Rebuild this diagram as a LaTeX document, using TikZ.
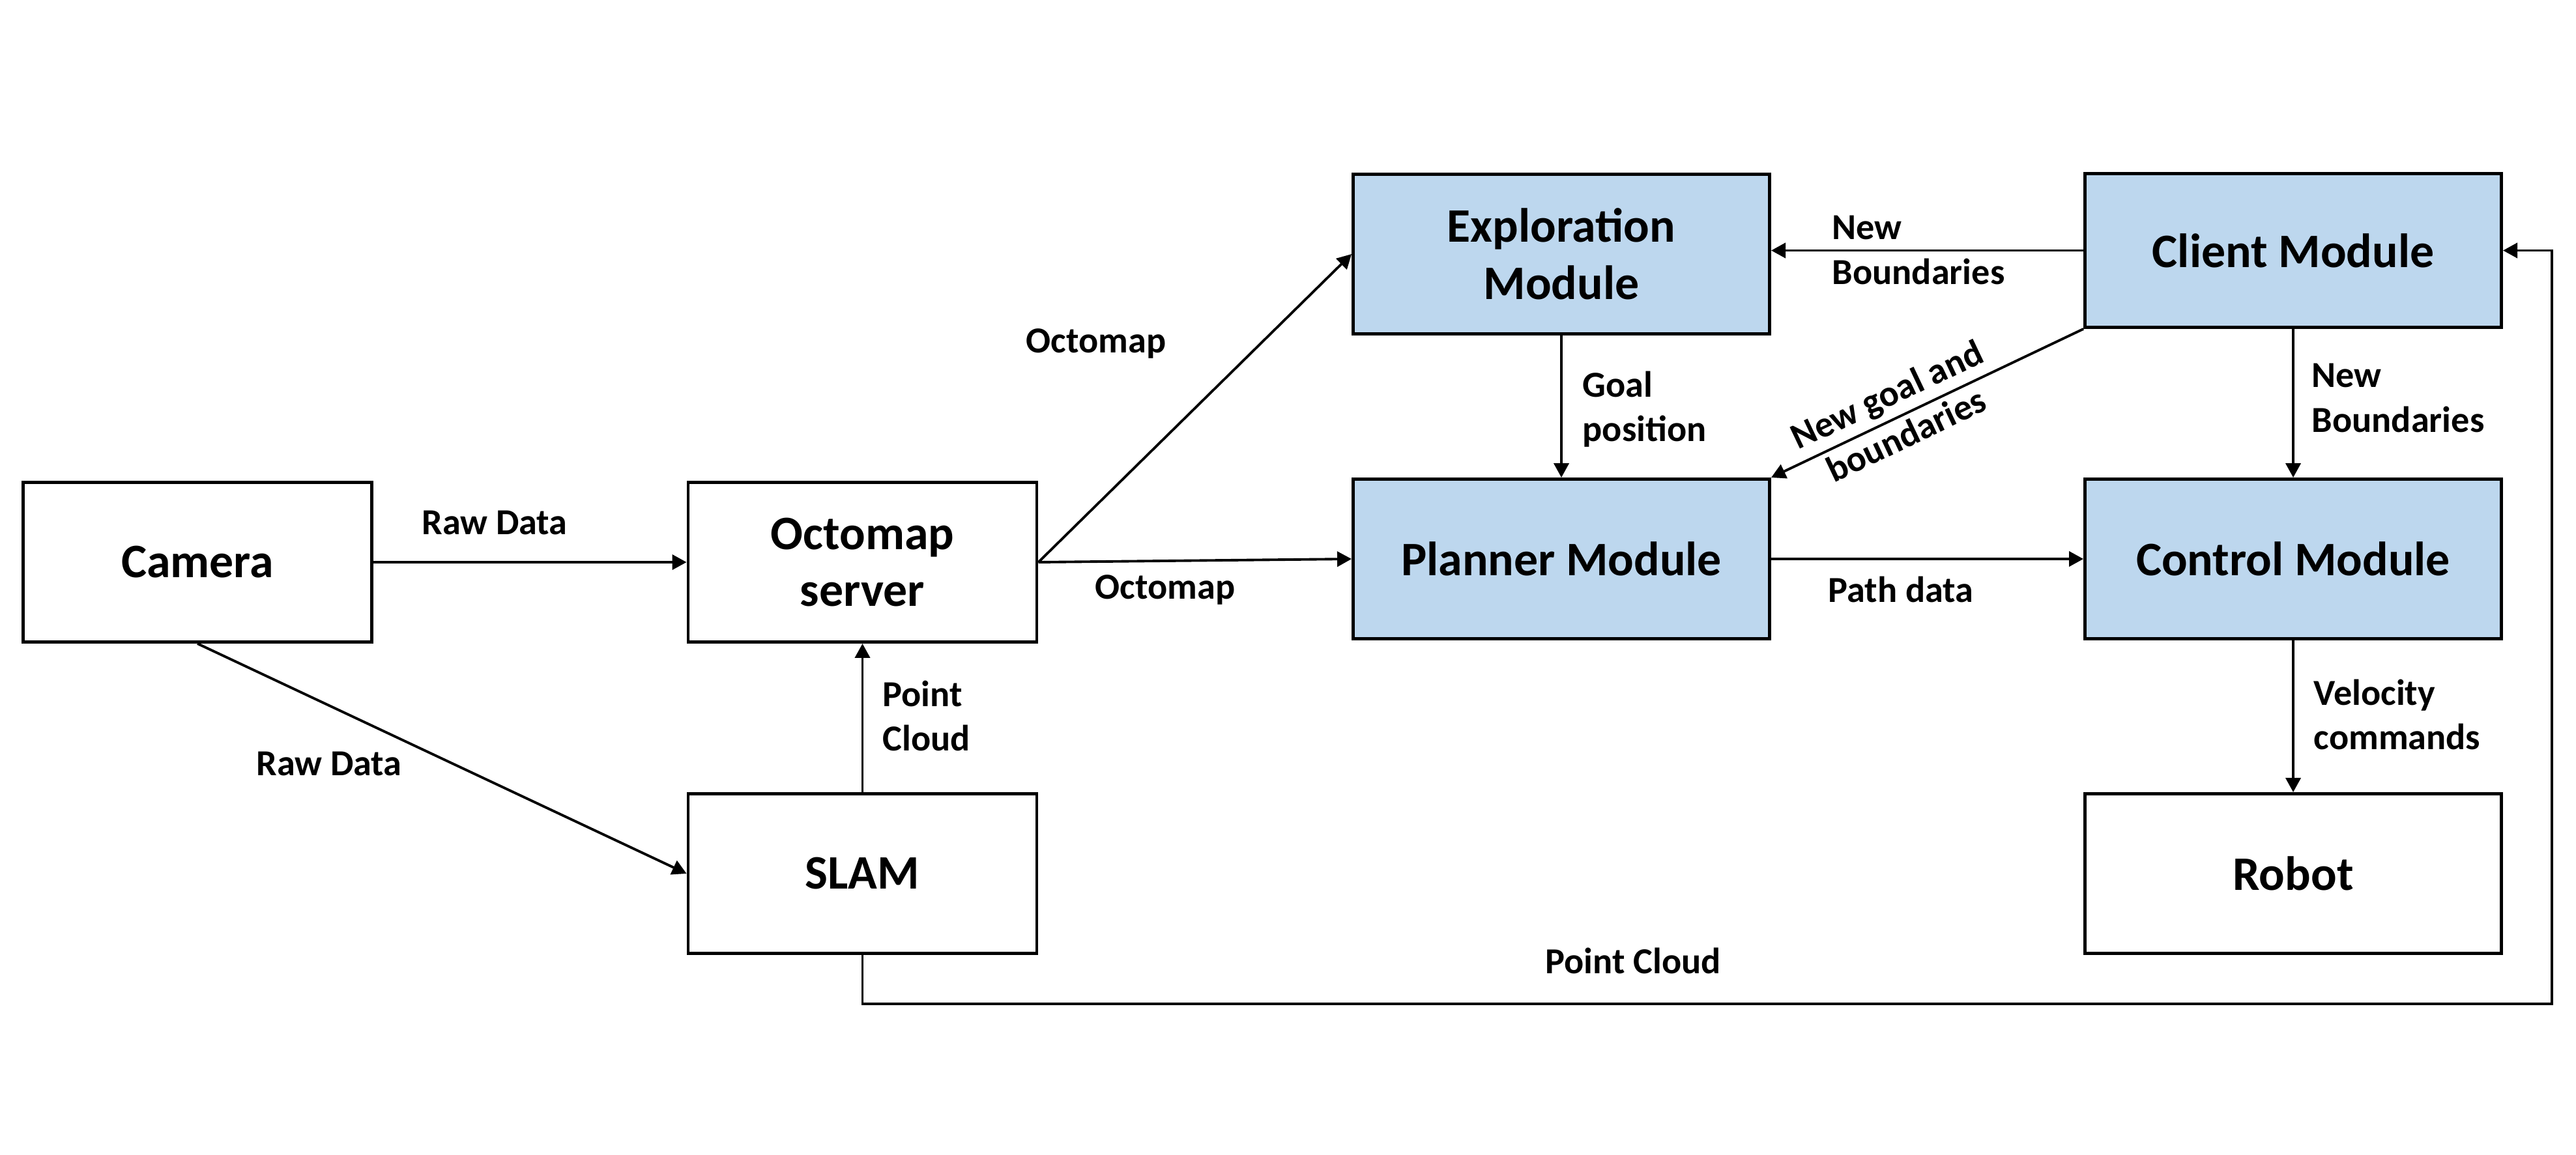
\documentclass[tikz,border=0pt]{standalone}
\usepackage{fontspec}
\setmainfont{Carlito}
\usetikzlibrary{arrows.meta}
\definecolor{modblue}{RGB}{189,215,238}
\newcommand{\boxfont}{\fontsize{21}{25}\selectfont\bfseries}
\newcommand{\lblfont}{\fontsize{16}{19.5}\selectfont\bfseries}
\begin{document}
\begin{tikzpicture}[x=1cm, y=-1cm, >={Triangle[length=2.2mm,width=2.3mm]},
  box/.style={draw, line width=1.4pt, fill=white, minimum width=5.35cm, minimum height=2.45cm, align=center, font=\boxfont},
  module/.style={box, fill=modblue, minimum width=6.39cm},
  lbl/.style={font=\lblfont, align=left, inner sep=0pt},
  flow/.style={->, line width=1.1pt}]
% y runs downwards, one unit is 100 px of the 3953x1773 page
\useasboundingbox (0,0) rectangle (39.53,17.73);
% sensing side
\node[box] (camera) at (3.03,8.63) {Camera};
\node[box] (octo) at (13.235,8.63) {Octomap\\server};
\node[box] (slam) at (13.235,13.41) {SLAM};
% modules
\node[module] (explore) at (23.96,3.90) {Exploration\\Module};
\node[module] (planner) at (23.96,8.58) {Planner Module};
\node[module, minimum height=2.36cm] (client) at (35.19,3.845) {Client Module};
\node[module] (control) at (35.19,8.58) {Control Module};
\node[box, minimum width=6.39cm] (robot) at (35.19,13.41) {Robot};
\coordinate (fbcorner) at (39.16,15.41);
% connectors
\draw[flow] (camera.east) -- (octo.west);
\draw[flow] (camera.south) -- (slam.west);
\draw[flow] (slam.north) -- (octo.south);
\draw[flow] (octo.east) -- (explore.west);
\draw[flow] (octo.east) -- (planner.west);
\draw[flow] (explore.south) -- (planner.north);
\draw[flow] (client.west) -- (client.west -| explore.east);
\draw[flow] (client.south west) -- (planner.north east);
\draw[flow] (client.south) -- (control.north);
\draw[flow] (planner.east) -- (control.west);
\draw[flow] (control.south) -- (robot.north);
\draw[flow] (slam.south) |- (fbcorner) |- (client.east);
% labels
\node[lbl] (rawtop) at (7.59,8.02) {Raw Data};
\node[lbl] (rawdiag) at (5.05,11.72) {Raw Data};
\node[lbl] (octoup) at (16.82,5.27) {Octomap};
\node[lbl] (octolow) at (17.88,9.05) {Octomap};
\node[lbl, anchor=west] (ptcloud) at (13.54,10.99) {Point\\Cloud};
\node[lbl, anchor=west] (goalpos) at (24.28,6.28) {Goal\\position};
\node[lbl, anchor=west] (newbtop) at (28.11,3.84) {New\\Boundaries};
\node[lbl, anchor=west] (newbright) at (35.47,6.11) {New\\Boundaries};
\node[lbl] (pathdata) at (29.17,9.05) {Path data};
\node[lbl, anchor=west] (velcmd) at (35.50,10.97) {Velocity\\commands};
\node[lbl] (ptcloudbot) at (25.06,14.75) {Point Cloud};
\node[lbl, align=center, rotate=25.4] (newgoal) at (29.10,6.36) {New goal and\\boundaries};
\end{tikzpicture}
\end{document}
